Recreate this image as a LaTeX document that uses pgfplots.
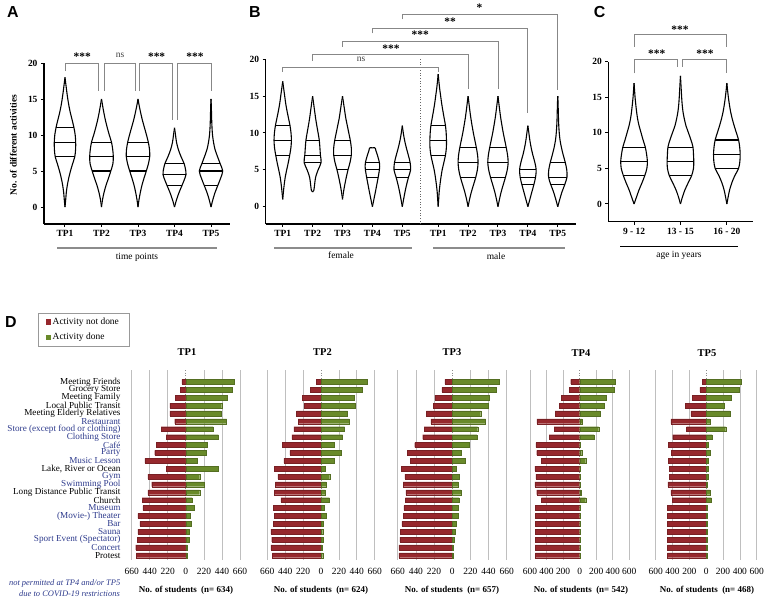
\documentclass[border=0pt]{standalone}
\usepackage{fontspec}
\setmainfont{Liberation Serif}
\newfontfamily\panelfont{Liberation Sans}
\usepackage{pgfplots}
\usepackage{pgfplotstable}
\pgfplotsset{compat=1.18}
\definecolor{dred}{RGB}{150,40,45}
\definecolor{dgreen}{RGB}{105,138,42}
\definecolor{lblue}{RGB}{45,58,140}
\definecolor{brkc}{RGB}{135,135,135}
\newcommand\fs[1]{\fontsize{#1}{#1}\selectfont}

% ---------- violin profiles: y and half width (px) ----------
\pgfplotstableread{
y w
0 0
1 0.7
2 1.3
3 2.3
4 3.7
5 5.5
6 7.6
7 9.8
8 10.6
9 10.7
10 10.2
11 9.0
12 7.3
13 5.5
14 4.0
15 2.8
16 1.8
17 0.9
18 0
}\vAa
\pgfplotstableread{
y w
0 0
1 1
2 2.5
3 4.5
4 7
5 9.3
6 11.4
7 11.8
8 11.2
9 10
10 7.8
11 5.8
12 4
13 2.5
14 1.2
15 0
}\vAb
\pgfplotstableread{
y w
0 0
1 1
2 2.3
3 3.9
4 6
5 8.3
6 10.4
7 11.7
8 11.5
9 10.3
10 8.5
11 6.5
12 4.5
13 2.8
14 1.3
15 0
}\vAc
\pgfplotstableread{
y w
0 0
1 2
2 4.5
3 7.5
4 10.4
4.5 11.5
5 11.3
6 9.7
7 6.5
8 3.8
9 2
10 1
11 0
}\vAd
\pgfplotstableread{
y w
0 0
1 1.8
2 4
3 6.8
4 9.6
5 11.7
6 9.2
7 6.5
8 4
9 2.5
10 1.5
11 1
12 0.7
13 0.5
14 0.3
15 0
}\vAe
\pgfplotstableread{
y w
1 0
2 0.7
3 1.5
4 2.5
5 4
6 5.6
7 7
8 8.2
9 8.7
10 8.3
11 7.3
12 5.8
13 4.3
14 3
15 2
16 1
17 0
}\vBa
\pgfplotstableread{
y w
2 0
2.2 1.2
3 2
4 3
5 5.5
6 8.5
7 7.8
8 7.3
9 6.7
10 5.5
11 4.2
12 3
13 2
14 1
15 0
}\vBb
\pgfplotstableread{
y w
1 0
2 1
3 2.3
4 3.8
5 5.5
6 7.5
7 8.8
8 8.8
9 7.8
10 6.3
11 4.8
12 3.3
13 2.2
14 1.1
15 0
}\vBc
\pgfplotstableread{
y w
0 0
1 1.5
2 3
3 4.4
4 5.8
5 7
5.5 7.3
6 7
7 5
7.6 3.5
7.9 3
8 2.2
8 0
}\vBd
\pgfplotstableread{
y w
0 0
1 1.3
2 2.7
3 4.3
4 6.2
5 8.3
6 7.8
7 6
8 4
9 2.3
10 1
11 0
}\vBe
\pgfplotstableread{
y w
0 0
1 0.5
2 1
3 1.8
4 2.8
5 4
6 5.7
7 7.3
8 8.2
9 8.3
10 8
11 7.3
12 6
13 4.7
14 3.5
15 2.5
16 1.5
17 0.7
18 0
}\vBf
\pgfplotstableread{
y w
0 0
1 1.5
2 3.3
3 5.5
4 7.7
5 9.3
6 10
7 9.5
8 8.3
9 6.8
10 5.3
11 4
12 2.8
13 1.8
14 0.9
15 0
}\vBg
\pgfplotstableread{
y w
0 0
1 1.5
2 3.2
3 5.3
4 7.5
5 9.3
6 10.2
7 9.6
8 8.3
9 6.8
10 5.3
11 4
12 2.8
13 1.8
14 0.9
15 0
}\vBh
\pgfplotstableread{
y w
0 0
1 2
2 4
3 6
4 7.7
5 8.3
6 7
7 5
8 3.3
9 2
10 1
11 0
}\vBi
\pgfplotstableread{
y w
0 0
1 2
2 4.2
3 7
4 9.2
5 9
6 7.5
7 5.5
8 3.7
9 2.3
10 1.5
11 1
12 0.7
13 0.5
14 0.3
15 0
}\vBj
\pgfplotstableread{
y w
0 0
1 2.5
2 5
3 8
4 10.7
5 12.8
6 13.3
7 12.5
8 11.2
9 9
10 7
11 5
12 3.5
13 2.5
14 1.7
15 1
16 0.5
17 0
}\vCa
\pgfplotstableread{
y w
0 0
1 2
2 4.5
3 7.8
4 11.2
5 13
6 13.3
7 13
8 12.5
9 10.5
10 8
11 5.5
12 3.8
13 2.5
14 1.7
15 1.2
16 0.8
17 0.4
18 0
}\vCb
\pgfplotstableread{
y w
0 0
1 1.3
2 2.8
3 5
4 8
5 11.7
6 13
7 13.3
8 12.8
9 11.7
10 9.5
11 7.3
12 5.3
13 3.7
14 2.5
15 1.5
16 0.7
17 0
}\vCc

\tikzset{
  sigstar/.style={font=\bfseries\fs{11.5}, anchor=base, inner sep=0pt},
  nstext/.style={font=\fs{9.5}, anchor=base, inner sep=0pt, text=black!75},
}
\pgfplotsset{
  vio/.style={black, line width=1.1bp, smooth, tension=0.5, forget plot},
  brk/.style={brkc, line width=0.9bp, forget plot},
  vax/.style={anchor=south west, scale only axis, clip=false,
    axis x line*=bottom, axis y line*=left,
    axis line style={line width=1.1bp, black},
    tick align=outside, major tick length=3bp,
    tick style={line width=1bp, black},
    ytick={0,5,10,15,20},
    /pgf/number format/assume math mode=true,
    ticklabel style={font=\bfseries\fs{9.5}}},
  bax/.style={anchor=south west, scale only axis, height=190bp,
    ymin=-1.5, ymax=22.6, y dir=reverse,
    axis line style={draw=none}, major tick length=0pt, tick style={draw=none},
    xmajorgrids, grid style={black!25, line width=0.7bp},
    ytick=\empty,
    /pgf/number format/assume math mode=true,
    xticklabel style={font=\fs{9.5}, yshift=-5bp},
    extra x ticks={0}, extra x tick labels={0},
    extra x tick style={grid style={black!45, dotted, line width=0.7bp}}},
  b660/.style={xmin=-660, xmax=660, xtick={-660,-440,-220,220,440,660}, xticklabels={660,440,220,220,440,660}},
  b600/.style={xmin=-600, xmax=600, xtick={-600,-400,-200,200,400,600}, xticklabels={600,400,200,200,400,600}},
  rbar/.style={xbar, bar width=4.8bp, bar shift=0pt, fill=dred, draw=dred!80!black, line width=0.2bp, forget plot},
  gbar/.style={xbar, bar width=4.8bp, bar shift=0pt, fill=dgreen, draw=dgreen!80!black, line width=0.2bp, forget plot},
}
% violin outline: both halves from a (y, half width in px) table
\newcommand\vio[3]{\addplot[vio] table[x expr=#1+\thisrow{w}/#3,y=y]{#2};\addplot[vio] table[x expr=#1-\thisrow{w}/#3,y=y]{#2};}

\begin{document}
\begin{tikzpicture}
\path[use as bounding box] (0,0) rectangle (767bp,-601bp);

% panel letters
\node[font=\panelfont\bfseries\fs{16}, inner sep=0pt] at (13bp,-12.5bp) {A};
\node[font=\panelfont\bfseries\fs{16}, inner sep=0pt] at (255bp,-12.5bp) {B};
\node[font=\panelfont\bfseries\fs{16}, inner sep=0pt] at (599.5bp,-12.5bp) {C};
\node[font=\panelfont\bfseries\fs{16}, inner sep=0pt] at (11bp,-321.7bp) {D};

% ================= Panel A =================
\begin{axis}[vax, at={(44bp,-224bp)}, width=186bp, height=161bp,
  xmin=0.425, xmax=5.52, ymin=-2.36, ymax=20,
  xtick={1,2,3,4,5}, xticklabels={TP1,TP2,TP3,TP4,TP5}]
\vio{1}{\vAa}{36.5}
\vio{2}{\vAb}{36.5}
\vio{3}{\vAc}{36.5}
\vio{4}{\vAd}{36.5}
\vio{5}{\vAe}{36.5}
\addplot[black, line width=1.1bp, forget plot, quiver={u={2*\thisrow{w}/36.5}, v=0}]
 table[x expr=\thisrow{x}-\thisrow{w}/36.5, y=y, row sep=\\]{
x y w\\ 1 7 9.8\\ 1 9 10.7\\ 1 11 9.0\\ 2 5 9.3\\ 2 7 11.8\\ 2 9 10\\
3 5 8.3\\ 3 7 11.7\\ 3 9 10.3\\ 4 3 7.5\\ 4 4.5 11.5\\ 4 6 9.7\\ 5 3 6.8\\ 5 5 11.7\\ 5 6 9.2\\};
\addplot[brk] coordinates {(1,18.9) (1,20) (1.93,20) (1.93,16.1)};
\addplot[brk] coordinates {(2.07,16.1) (2.07,20) (2.92,20) (2.92,16.1)};
\addplot[brk] coordinates {(3.05,16.1) (3.05,20) (3.93,20) (3.93,12.1)};
\addplot[brk] coordinates {(4.07,12.1) (4.07,20) (5,20) (5,16.1)};
\node[sigstar] at (axis cs:1.47,20.35) {***};
\node[nstext] at (axis cs:2.51,20.8) {ns};
\node[sigstar] at (axis cs:3.51,20.35) {***};
\node[sigstar] at (axis cs:4.56,20.35) {***};
\end{axis}
\node[font=\bfseries\fs{9.5}, rotate=90] at (13.3bp,-145bp) {No. of different activities};
\draw[black!45, line width=1.3bp] (57bp,-248bp) -- (217bp,-248bp);
\node[font=\fs{9.5}] at (137bp,-257bp) {time points};

% ================= Panel B =================
\begin{axis}[vax, at={(265.7bp,-224bp)}, width=310.3bp, height=164.7bp,
  xmin=0.431, xmax=10.81, ymin=-2.35, ymax=20,
  xtick={1,2,3,4,5,6.2,7.2,8.2,9.2,10.2},
  xticklabels={TP1,TP2,TP3,TP4,TP5,TP1,TP2,TP3,TP4,TP5}]
\addplot[black!60, dotted, line width=0.7bp, forget plot] coordinates {(5.62,-2.35) (5.62,20)};
\vio{1}{\vBa}{29.9}
\vio{2}{\vBb}{29.9}
\vio{3}{\vBc}{29.9}
\vio{4}{\vBd}{29.9}
\vio{5}{\vBe}{29.9}
\vio{6.2}{\vBf}{29.9}
\vio{7.2}{\vBg}{29.9}
\vio{8.2}{\vBh}{29.9}
\vio{9.2}{\vBi}{29.9}
\vio{10.2}{\vBj}{29.9}
\addplot[black, line width=1.1bp, forget plot, quiver={u={2*\thisrow{w}/29.9}, v=0}]
 table[x expr=\thisrow{x}-\thisrow{w}/29.9, y=y, row sep=\\]{
x y w\\ 1 7 7\\ 1 9 8.7\\ 1 11 7.3\\ 2 6 8.5\\ 2 7 7.8\\ 2 9 6.7\\
3 5 5.5\\ 3 7 8.8\\ 3 9 7.8\\ 4 4 5.8\\ 4 5 7\\ 4 6 7\\ 5 4 6.2\\ 5 5 8.3\\ 5 6 7.8\\
6.2 7 7.3\\ 6.2 9 8.3\\ 6.2 11 7.3\\ 7.2 4 7.7\\ 7.2 6 10\\ 7.2 8 8.3\\
8.2 4 7.5\\ 8.2 6 10.2\\ 8.2 8 8.3\\ 9.2 3 6\\ 9.2 4 7.7\\ 9.2 5 8.3\\
10.2 3 7\\ 10.2 4 9.2\\ 10.2 6 7.5\\};
\addplot[brk] coordinates {(1,18.3) (1,18.91) (6.2,18.91) (6.2,18.3)};
\addplot[brk] coordinates {(2,19.77) (2,20.68) (7.2,20.68) (7.2,15.93)};
\addplot[brk] coordinates {(3,21.71) (3,22.39) (8.2,22.39) (8.2,15.93)};
\addplot[brk] coordinates {(4,23.53) (4,24.15) (9.2,24.15) (9.2,12.67)};
\addplot[brk] coordinates {(5,25.43) (5,26.05) (10.2,26.05) (10.2,15.83)};
\node[nstext] at (axis cs:3.62,19.7) {ns};
\node[sigstar] at (axis cs:4.62,20.96) {***};
\node[sigstar] at (axis cs:5.6,22.78) {***};
\node[sigstar] at (axis cs:6.6,24.59) {**};
\node[sigstar] at (axis cs:7.58,26.49) {*};
\end{axis}
\draw[black!45, line width=1.3bp] (274bp,-248bp) -- (412bp,-248bp);
\node[font=\fs{9.5}] at (341bp,-255.5bp) {female};
\draw[black!45, line width=1.3bp] (433bp,-248bp) -- (565bp,-248bp);
\node[font=\fs{9.5}] at (496bp,-256.5bp) {male};

% ================= Panel C =================
\begin{axis}[vax, at={(608.3bp,-221.7bp)}, width=145bp, height=160bp,
  xmin=0.445, xmax=3.57, ymin=-2.49, ymax=20,
  xtick={1,2,3}, xticklabels={9 - 12,13 - 15,16 - 20}]
\vio{1}{\vCa}{46.3}
\vio{2}{\vCb}{46.3}
\vio{3}{\vCc}{46.3}
\addplot[black, line width=1.1bp, forget plot, quiver={u={2*\thisrow{w}/46.3}, v=0}]
 table[x expr=\thisrow{x}-\thisrow{w}/46.3, y=y, row sep=\\]{
x y w\\ 1 4 10.7\\ 1 6 13.3\\ 1 8 11.2\\ 2 4 11.2\\ 2 6 13.3\\ 2 8 12.5\\
3 5 11.7\\ 3 7 13.3\\ 3 9 11.7\\};
\addplot[brk] coordinates {(1,22.09) (1,23.83) (3,23.83) (3,22.09)};
\addplot[brk] coordinates {(1,18.36) (1,20.32) (1.94,20.32) (1.94,19.28)};
\addplot[brk] coordinates {(2.04,19.28) (2.04,20.32) (3,20.32) (3,18.36)};
\node[sigstar] at (axis cs:1.99,23.9) {***};
\node[sigstar] at (axis cs:1.49,20.53) {***};
\node[sigstar] at (axis cs:2.53,20.53) {***};
\end{axis}
\draw[black, line width=0.8bp] (620bp,-246.7bp) -- (738bp,-246.7bp);
\node[font=\fs{9.5}] at (679bp,-255bp) {age in years};

% ================= Panel D =================
% TP1
\begin{axis}[bax, b660, at={(131.7bp,-560bp)}, width=108.3bp,
  ytick={0,...,22},
  yticklabel style={font=\fs{9.2}, anchor=east, inner sep=0pt, xshift=-11bp},
  yticklabels={{Meeting Friends},{Grocery Store},{Meeting Family},{Local Public Transit},{Meeting Elderly Relatives},
  {\textcolor{lblue}{Restaurant}},{\textcolor{lblue}{Store (except food or clothing)}},{\textcolor{lblue}{Clothing Store}},
  {\textcolor{lblue}{Café}},{\textcolor{lblue}{Party}},{\textcolor{lblue}{Music Lesson}},{Lake, River or Ocean},
  {\textcolor{lblue}{Gym}},{\textcolor{lblue}{Swimming Pool}},{Long Distance Public Transit},{Church},
  {\textcolor{lblue}{Museum}},{\textcolor{lblue}{(Movie-) Theater}},{\textcolor{lblue}{Bar}},{\textcolor{lblue}{Sauna}},
  {\textcolor{lblue}{Sport Event (Spectator)}},{\textcolor{lblue}{Concert}},{Protest}},
  legend style={at={(-0.868,1.3)}, anchor=north west, draw=black!40, font=\fs{9.5},
    inner xsep=8bp, inner ysep=2.5bp, row sep=3.5bp},
  legend cell align=left]
\addlegendimage{legend image code/.code={\fill[dred] (0bp,-2.2bp) rectangle (4.4bp,2.2bp);}}
\addlegendentry{Activity not done}
\addlegendimage{legend image code/.code={\fill[dgreen] (0bp,-2.2bp) rectangle (4.4bp,2.2bp);}}
\addlegendentry{Activity done}
\addplot[rbar] coordinates {(-48,0) (-64,1) (-128,2) (-196,3) (-196,4) (-136,5) (-300,6) (-240,7) (-360,8) (-380,9) (-500,10) (-240,11) (-464,12) (-416,13) (-464,14) (-532,15) (-524,16) (-584,17) (-560,18) (-584,19) (-592,20) (-612,21) (-604,22)};
\addplot[gbar] coordinates {(584,0) (564,1) (508,2) (436,3) (428,4) (496,5) (332,6) (396,7) (264,8) (248,9) (136,10) (396,11) (168,12) (220,13) (168,14) (76,15) (100,16) (52,17) (60,18) (44,19) (44,20) (16,21) (16,22)};
\end{axis}
% TP2
\begin{axis}[bax, b660, at={(267.3bp,-560bp)}, width=107.4bp]
\addplot[rbar] coordinates {(-57,0) (-130,1) (-232,2) (-204,3) (-301,4) (-281,5) (-334,6) (-358,7) (-473,8) (-383,9) (-456,10) (-574,11) (-530,12) (-562,13) (-574,14) (-493,15) (-587,16) (-574,17) (-587,18) (-615,19) (-607,20) (-615,21) (-599,22)};
\addplot[gbar] coordinates {(570,0) (509,1) (403,2) (420,3) (326,4) (350,5) (289,6) (265,7) (159,8) (253,9) (167,10) (53,11) (106,12) (61,13) (53,14) (102,15) (37,16) (61,17) (29,18) (20,19) (24,20) (12,21) (20,22)};
\end{axis}
% TP3
\begin{axis}[bax, b660, at={(397.7bp,-560bp)}, width=109bp]
\addplot[rbar] coordinates {(-88,0) (-124,1) (-210,2) (-226,3) (-312,4) (-259,5) (-340,6) (-357,7) (-454,8) (-544,9) (-511,10) (-617,11) (-572,12) (-593,13) (-560,14) (-566,15) (-585,16) (-593,17) (-609,18) (-626,19) (-634,20) (-645,21) (-645,22)};
\addplot[gbar] coordinates {(568,0) (532,1) (448,2) (432,3) (344,4) (404,5) (308,6) (300,7) (208,8) (112,9) (156,10) (44,11) (84,12) (68,13) (104,14) (84,15) (76,16) (68,17) (44,18) (36,19) (24,20) (8,21) (8,22)};
\end{axis}
% TP4
\begin{axis}[bax, b600, at={(530bp,-560bp)}, width=99.3bp]
\addplot[rbar] coordinates {(-108,0) (-128,1) (-220,2) (-248,3) (-296,4) (-516,5) (-308,6) (-368,7) (-528,8) (-520,9) (-464,10) (-540,11) (-528,12) (-540,13) (-520,14) (-464,15) (-536,16) (-538,17) (-538,18) (-538,19) (-538,20) (-538,21) (-536,22)};
\addplot[gbar] coordinates {(430,0) (412,1) (322,2) (296,3) (248,4) (28,5) (230,6) (172,7) (8,8) (24,9) (72,10) (4,11) (8,12) (4,13) (16,14) (72,15) (4,16) (4,17) (4,18) (4,19) (4,20) (4,21) (4,22)};
\end{axis}
% TP5
\begin{axis}[bax, b600, at={(655.7bp,-560bp)}, width=101bp]
\addplot[rbar] coordinates {(-48,0) (-76,1) (-162,2) (-250,3) (-182,4) (-420,5) (-234,6) (-398,7) (-448,8) (-414,9) (-448,10) (-440,11) (-440,12) (-456,13) (-420,14) (-404,15) (-462,16) (-462,17) (-462,18) (-462,19) (-462,20) (-462,21) (-462,22)};
\addplot[gbar] coordinates {(420,0) (392,1) (298,2) (216,3) (282,4) (44,5) (232,6) (70,7) (20,8) (44,9) (20,10) (24,11) (24,12) (14,13) (44,14) (60,15) (6,16) (6,17) (6,18) (6,19) (6,20) (6,21) (6,22)};
\end{axis}

% D titles and labels
\foreach \xx/\tt in {187/TP1,322.5/TP2,452/TP3}{\node[font=\bfseries\fs{10.5}] at (\xx bp,-352bp) {\tt};}
\foreach \xx/\tt in {581/TP4,707/TP5}{\node[font=\bfseries\fs{10.5}] at (\xx bp,-353.5bp) {\tt};}
\node[font=\bfseries\fs{9}] at (186bp,-590bp) {No. of students\ \ (n= 634)};
\node[font=\bfseries\fs{9}] at (321bp,-590bp) {No. of students\ \ (n= 624)};
\node[font=\bfseries\fs{9}] at (452bp,-590bp) {No. of students\ \ (n= 657)};
\node[font=\bfseries\fs{9}] at (581bp,-590bp) {No. of students\ \ (n= 542)};
\node[font=\bfseries\fs{9}] at (707bp,-590bp) {No. of students\ \ (n= 468)};
\node[anchor=east, font=\itshape\fs{8.5}, text=lblue, inner sep=0pt] at (120.5bp,-583.3bp) {not permitted at TP4 and/or TP5};
\node[anchor=east, font=\itshape\fs{8.5}, text=lblue, inner sep=0pt] at (120bp,-593.8bp) {due to COVID-19 restrictions};
\end{tikzpicture}
\end{document}
